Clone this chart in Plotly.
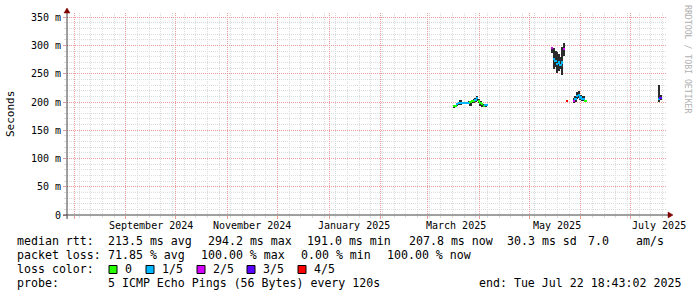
import plotly.graph_objects as go

# ---------------- data ----------------
START = "2024-07-27 18:43:02"
END = "2025-07-22 18:43:02"

dates = [
    "2025-03-17", "2025-03-18", "2025-03-19", "2025-03-20", "2025-03-21", "2025-03-22",
    "2025-03-23", "2025-03-24", "2025-03-25", "2025-03-26", "2025-03-27", "2025-03-28",
    "2025-03-29", "2025-03-30", "2025-03-31", "2025-04-01", "2025-04-02", "2025-04-03",
    "2025-04-04", "2025-04-05", "2025-04-06",
    "2025-05-15", "2025-05-16", "2025-05-17", "2025-05-18", "2025-05-19", "2025-05-20",
    "2025-05-21", "2025-05-22",
    "2025-05-24", "2025-05-28", "2025-05-29", "2025-05-30", "2025-05-31", "2025-06-01",
    "2025-06-02", "2025-06-03", "2025-06-04",
    "2025-07-18", "2025-07-19",
]
median_ms = [
    192.5, 193.5, 196.0, 197.5, 198.5, 199.0, 199.0, 199.0, 199.0, 199.0, 200.0, 201.0,
    202.0, 204.0, 207.0, 201.0, 198.0, 196.0, 193.0, 194.5, 194.0,
    295.0, 276.0, 272.0, 268.0, 270.0, 266.0, 270.0, 294.2,
    202.5, 202.0, 205.0, 210.0, 213.0, 208.0, 206.0, 205.0, 202.0,
    206.0, 207.8,
]
min_ms = [
    191.0, 192.0, 194.5, 196.0, 195.0, 197.0, 197.0, 197.0, 197.0, 196.5, 193.5, 198.0,
    199.0, 200.0, 202.0, 199.0, 193.0, 192.0, 191.0, 192.0, 193.0,
    287.0, 258.0, 262.0, 252.0, 255.0, 258.0, 247.0, 282.0,
    201.0, 199.0, 200.0, 205.0, 207.0, 203.0, 202.0, 201.0, 201.0,
    200.0, 204.0,
]
max_ms = [
    194.0, 195.5, 198.0, 199.5, 204.0, 200.5, 200.5, 200.5, 200.5, 201.0, 201.0, 204.0,
    205.0, 207.0, 210.0, 205.0, 202.0, 199.0, 196.0, 196.5, 195.5,
    298.0, 296.0, 290.0, 289.0, 285.0, 280.0, 297.0, 304.0,
    204.0, 207.0, 210.0, 217.0, 220.0, 212.0, 211.0, 210.0, 204.0,
    231.0, 212.0,
]
loss = [
    0, 0, 1, 1, 1, 1, 1, 1, 1, 1, 0, 0,
    0, 1, 1, 0, 0, 0, 0, 1, 1,
    2, 1, 1, 1, 1, 1, 1, 2,
    4, 2, 1, 1, 1, 1, 1, 1, 0,
    1, 3,
]

loss_colors = ["#26ff00", "#00b8ff", "#d400ff", "#5a00ff", "#ff0000"]
loss_labels = ["0", "1/5", "2/5", "3/5", "4/5"]

y_tickvals = [0, 50, 100, 150, 200, 250, 300, 350]
y_ticktext = ["0", "50 m", "100 m", "150 m", "200 m", "250 m", "300 m", "350 m"]

month_label_dates = ["2024-09-16", "2024-11-16", "2025-01-16",
                     "2025-03-18", "2025-05-18", "2025-07-18"]
month_labels = ["September 2024", "November 2024", "January 2025",
                "March 2025", "May 2025", "July 2025"]

legend_rows = [
    [("median rtt:", 16), ("213.5 ms avg", 107), ("294.2 ms max", 207),
     ("191.0 ms min", 306), ("207.8 ms now", 408), ("30.3 ms sd", 506),
     ("7.0", 587), ("am/s", 635)],
    [("packet loss:", 16), ("71.85 % avg", 107), ("100.00 % max", 200),
     ("0.00 % min", 300), ("100.00 % now", 386)],
    [("loss color:", 16)],
    [("probe:", 16), ("5 ICMP Echo Pings (56 Bytes) every 120s", 107),
     ("end: Tue Jul 22 18:43:02 2025", 478)],
]
legend_row_y = [241.5, 255.3, 269.1, 282.9]
box_x = [109, 146, 197, 247, 298]

# ---------------- layout helpers ----------------
W, H = 697, 297
ML, MR, MT, MB = 67, 30, 13, 82
PW, PH = W - ML - MR, H - MT - MB
Y0 = H - MB


def px(x):
    return (x - ML) / PW


def py(y):
    return (Y0 - y) / PH


MONO = "DejaVu Sans Mono"
DAY_MS = 86400000
GRID = "#dcdcdc"
MGRID = "#e89c9c"
DASH = "1px,1px"
AXIS = "#404040"
ARROW = "#800000"

fig = go.Figure()

# smoke (min..max)
fig.add_trace(go.Bar(
    x=dates, base=min_ms, y=[mx - mn for mx, mn in zip(max_ms, min_ms)],
    width=DAY_MS, marker=dict(color="#2b2b2b", line=dict(width=0)),
    hoverinfo="skip", showlegend=False,
))
# median coloured by loss
fig.add_trace(go.Bar(
    x=dates, base=[m - 1.8 for m in median_ms], y=[3.6] * len(median_ms),
    width=DAY_MS, marker=dict(color=[loss_colors[l] for l in loss], line=dict(width=0)),
    hoverinfo="skip", showlegend=False,
))

annotations = []
for d, t in zip(month_label_dates, month_labels):
    annotations.append(dict(x=d, xref="x", y=py(225), yref="paper", text=t,
                            showarrow=False, xanchor="center", yanchor="middle",
                            font=dict(family=MONO, size=10, color="#000000")))

for row, yy in zip(legend_rows, legend_row_y):
    for txt, xx in row:
        annotations.append(dict(x=px(xx), xref="paper", y=py(yy), yref="paper",
                                text=txt, showarrow=False, xanchor="left",
                                yanchor="middle", borderpad=0,
                                font=dict(family=MONO, size=11.6, color="#000000")))

shapes = []
for i, (lab, col) in enumerate(zip(loss_labels, loss_colors)):
    bx = box_x[i]
    shapes.append(dict(type="rect", xref="paper", yref="paper",
                       x0=px(bx), x1=px(bx + 8), y0=py(273.5), y1=py(265.5),
                       fillcolor=col, line=dict(color="#000000", width=1)))
    annotations.append(dict(x=px(bx + 15), xref="paper", y=py(269.1), yref="paper",
                            text=lab, showarrow=False, xanchor="left", yanchor="middle",
                            borderpad=0,
                            font=dict(family=MONO, size=11.6, color="#000000")))

annotations.append(dict(x=px(10), xref="paper", y=py(114), yref="paper", text="Seconds",
                        showarrow=False, textangle=-90, xanchor="center", yanchor="middle",
                        font=dict(family=MONO, size=11, color="#000000")))
annotations.append(dict(x=px(688), xref="paper", y=py(59), yref="paper",
                        text="RRDTOOL / TOBI OETIKER", showarrow=False, textangle=90,
                        xanchor="center", yanchor="middle",
                        font=dict(family=MONO, size=8.2, color="#b0b0b0")))

# axis lines and arrows
shapes.append(dict(type="line", xref="paper", yref="paper", x0=px(63), x1=px(669),
                   y0=0, y1=0, line=dict(color=AXIS, width=1)))
shapes.append(dict(type="line", xref="paper", yref="paper", x0=0, x1=0,
                   y0=py(219), y1=py(12), line=dict(color=AXIS, width=1)))
shapes.append(dict(type="path", xref="paper", yref="paper",
                   path=f"M {px(668)} {py(212)} L {px(673)} {py(215)} L {px(668)} {py(218)} Z",
                   fillcolor=ARROW, line=dict(color=ARROW, width=0.5)))
shapes.append(dict(type="path", xref="paper", yref="paper",
                   path=f"M {px(64)} {py(13)} L {px(67)} {py(8)} L {px(70)} {py(13)} Z",
                   fillcolor=ARROW, line=dict(color=ARROW, width=0.5)))

fig.update_layout(
    width=W, height=H,
    margin=dict(l=ML, r=MR, t=MT, b=MB, pad=0),
    paper_bgcolor="#ffffff", plot_bgcolor="#ffffff",
    barmode="overlay", bargap=0,
    showlegend=False,
    annotations=annotations, shapes=shapes,
    xaxis=dict(
        type="date", range=[START, END], showticklabels=False,
        tick0="2024-08-01", dtick="M1",
        showgrid=True, gridcolor=MGRID, griddash=DASH, gridwidth=1,
        ticks="outside", ticklen=3, tickcolor=MGRID, showline=False, zeroline=False,
        minor=dict(dtick=7 * DAY_MS, tick0="2024-08-04", showgrid=True,
                   gridcolor=GRID, griddash=DASH, gridwidth=1,
                   ticks="outside", ticklen=2, tickcolor=GRID),
    ),
    yaxis=dict(
        range=[0, 357.6], tickmode="array", tickvals=y_tickvals, ticktext=y_ticktext,
        showgrid=True, gridcolor=MGRID, griddash=DASH, gridwidth=1,
        ticks="outside", ticklen=3, tickcolor=MGRID, zeroline=False, showline=False,
        tickfont=dict(family=MONO, size=10, color="#000000"),
        minor=dict(dtick=10, tick0=0, showgrid=True, gridcolor=GRID,
                   griddash=DASH, gridwidth=1, ticks="outside", ticklen=2,
                   tickcolor=GRID),
    ),
)

fig.write_html("out.html")
